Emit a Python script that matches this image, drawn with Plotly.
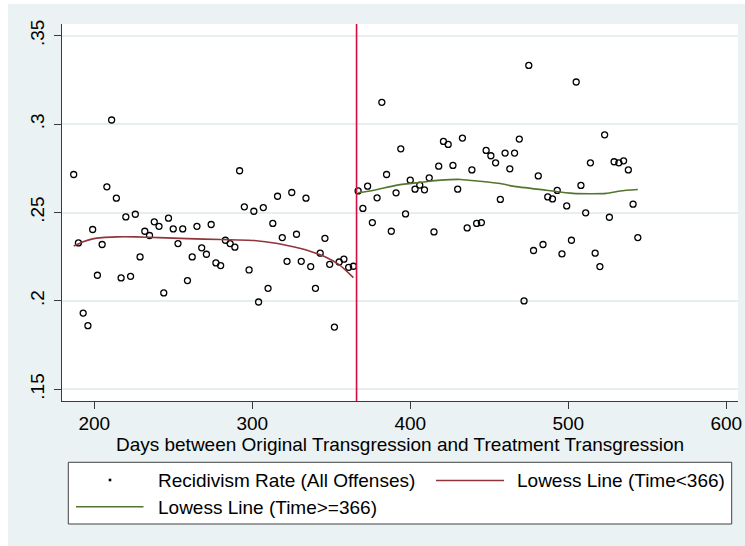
import plotly.graph_objects as go

# ---------------- data ----------------
days = [187, 190, 193, 196, 199, 202, 205, 208, 211, 214, 217, 220, 223, 226, 229,
        232, 235, 238, 241, 244, 247, 250, 253, 256, 259, 262, 265, 268, 271, 274,
        277, 280, 283, 286, 289, 292, 295, 298, 301, 304, 307, 310, 313, 316, 319,
        322, 325, 328, 331, 334, 337, 340, 343, 346, 349, 352, 355, 358, 361, 364,
        367, 370, 373, 376, 379, 382, 385, 388, 391, 394, 397, 400, 403, 406, 409,
        412, 415, 418, 421, 424, 427, 430, 433, 436, 439, 442, 445, 448, 451, 454,
        457, 460, 463, 466, 469, 472, 475, 478, 481, 484, 487, 490, 493, 496, 499,
        502, 505, 508, 511, 514, 517, 520, 523, 526, 529, 532, 535, 538, 541, 544]

recid_rate = [0.2715, 0.2328, 0.1931, 0.1860, 0.2404, 0.2145, 0.2319, 0.2645, 0.3023, 0.2581,
              0.2130, 0.2475, 0.2139, 0.2490, 0.2249, 0.2394, 0.2370, 0.2447, 0.2422, 0.2045,
              0.2468, 0.2407, 0.2324, 0.2407, 0.2115, 0.2249, 0.2422, 0.2300, 0.2264, 0.2432,
              0.2215, 0.2200, 0.2343, 0.2324, 0.2304, 0.2736, 0.2532, 0.2175, 0.2507, 0.1994,
              0.2528, 0.2071, 0.2438, 0.2592, 0.2358, 0.2224, 0.2613, 0.2377, 0.2224, 0.2581,
              0.2194, 0.2071, 0.2270, 0.2354, 0.2207, 0.1852, 0.2220, 0.2236, 0.2190, 0.2196,
              0.2622, 0.2523, 0.2649, 0.2443, 0.2583, 0.3123, 0.2715, 0.2394, 0.2611, 0.2860,
              0.2492, 0.2683, 0.2632, 0.2655, 0.2628, 0.2696, 0.2390, 0.2762, 0.2902, 0.2885,
              0.2766, 0.2632, 0.2921, 0.2413, 0.2741, 0.2438, 0.2443, 0.2851, 0.2821, 0.2781,
              0.2574, 0.2836, 0.2747, 0.2836, 0.2915, 0.2000, 0.3332, 0.2285, 0.2707, 0.2319,
              0.2588, 0.2577, 0.2625, 0.2266, 0.2537, 0.2343, 0.3238, 0.2653, 0.2498, 0.2781,
              0.2270, 0.2194, 0.2939, 0.2473, 0.2787, 0.2781, 0.2792, 0.2741, 0.2547, 0.2358]

lowess_before_x = [187, 193, 199, 205, 214, 226, 241, 259, 280, 301, 316, 328, 337, 346, 355, 364]
lowess_before_y = [0.2311, 0.2335, 0.2351, 0.2358, 0.2362, 0.2362, 0.2358, 0.2352, 0.2347,
                   0.2342, 0.2325, 0.2302, 0.2280, 0.2250, 0.2205, 0.2132]

lowess_after_x = [367, 377, 392, 406, 419, 432, 444, 457, 465, 486, 503, 524, 533, 544]
lowess_after_y = [0.2612, 0.2626, 0.2655, 0.2670, 0.2683, 0.2687, 0.2677, 0.2664, 0.2649,
                  0.2626, 0.2608, 0.2608, 0.2622, 0.2630]

CUTOFF = 366
x_ticks = [200, 300, 400, 500, 600]
y_ticks = [0.15, 0.2, 0.25, 0.3, 0.35]
y_tick_labels = [".15", ".2", ".25", ".3", ".35"]

series_names = ["Recidivism Rate (All Offenses)", "Lowess Line (Time<366)", "Lowess Line (Time>=366)"]
x_title = "Days between Original Transgression and Treatment Transgression"

# ---------------- styling ----------------
FONT = "Liberation Sans, Arial, sans-serif"
FS = 19
BG = "#EAF2F3"
RED_LOWESS = "#90353B"
GREEN_LOWESS = "#55752F"
VLINE = "#DA0B3E"
AXIS = "#3a3a3a"

W_FIG, H_FIG = 745, 546
PL, PR, PT, PB = 62, 738, 24, 401
PW, PH = PR - PL, PB - PT


def xp(px):
    return (px - PL) / PW


def yp(py):
    return (PB - py) / PH


fig = go.Figure()

fig.add_trace(go.Scatter(
    x=days, y=recid_rate, mode="markers", name=series_names[0],
    marker=dict(symbol="circle-open", size=6, color="black", line=dict(width=1.3, color="black")),
    showlegend=False, cliponaxis=False,
))
fig.add_trace(go.Scatter(
    x=lowess_before_x, y=lowess_before_y, mode="lines", name=series_names[1],
    line=dict(color=RED_LOWESS, width=1.6, shape="spline", smoothing=0.6), showlegend=False,
))
fig.add_trace(go.Scatter(
    x=lowess_after_x, y=lowess_after_y, mode="lines", name=series_names[2],
    line=dict(color=GREEN_LOWESS, width=1.6, shape="spline", smoothing=0.6), showlegend=False,
))

shapes = []
# white strips outside graph region (top and left)
shapes.append(dict(type="rect", xref="paper", yref="paper", x0=xp(0), x1=xp(W_FIG), y0=yp(4), y1=yp(0),
                   fillcolor="white", line=dict(width=0), layer="below"))
shapes.append(dict(type="rect", xref="paper", yref="paper", x0=xp(0), x1=xp(8), y0=yp(H_FIG), y1=yp(0),
                   fillcolor="white", line=dict(width=0), layer="below"))
# vertical cutoff line
shapes.append(dict(type="line", xref="x", yref="paper", x0=CUTOFF, x1=CUTOFF, y0=0, y1=1,
                   line=dict(color=VLINE, width=1.6), layer="above"))
# legend box
shapes.append(dict(type="rect", xref="paper", yref="paper", x0=xp(68.3), x1=xp(731.7), y0=yp(524), y1=yp(462.3),
                   fillcolor="white", line=dict(color="#404040", width=1)))
# legend keys
shapes.append(dict(type="rect", xref="paper", yref="paper", x0=xp(108.7), x1=xp(111.3), y0=yp(481.3), y1=yp(478.7),
                   fillcolor="black", line=dict(width=0)))
shapes.append(dict(type="line", xref="paper", yref="paper", x0=xp(436), x1=xp(504), y0=yp(480.5), y1=yp(480.5),
                   line=dict(color=RED_LOWESS, width=1.6)))
shapes.append(dict(type="line", xref="paper", yref="paper", x0=xp(76), x1=xp(143.5), y0=yp(506.7), y1=yp(506.7),
                   line=dict(color=GREEN_LOWESS, width=1.6)))

annotations = [
    dict(text=series_names[0], xref="paper", yref="paper", x=xp(155.5), y=yp(480.5), xanchor="left", yanchor="middle",
         showarrow=False, font=dict(family=FONT, size=FS, color="black")),
    dict(text=series_names[1], xref="paper", yref="paper", x=xp(515), y=yp(480.5), xanchor="left", yanchor="middle",
         showarrow=False, font=dict(family=FONT, size=FS, color="black")),
    dict(text=series_names[2], xref="paper", yref="paper", x=xp(155.5), y=yp(507.5), xanchor="left", yanchor="middle",
         showarrow=False, font=dict(family=FONT, size=FS, color="black")),
]

fig.update_layout(
    width=W_FIG, height=H_FIG,
    margin=dict(l=PL, r=W_FIG - PR, t=PT, b=H_FIG - PB, pad=0, autoexpand=False),
    paper_bgcolor=BG, plot_bgcolor="white",
    font=dict(family=FONT, size=FS, color="black"),
    showlegend=False,
    shapes=shapes, annotations=annotations,
    xaxis=dict(
        range=[179.6, 607.4], tickvals=x_ticks, ticks="outside", ticklen=7, tickwidth=1, tickcolor=AXIS,
        showline=True, linecolor=AXIS, linewidth=1, showgrid=False, zeroline=False, automargin=False,
        tickfont=dict(family=FONT, size=FS, color="black"), ticklabelstandoff=-2,
        title=dict(text=x_title, font=dict(family=FONT, size=FS, color="black"), standoff=0),
    ),
    yaxis=dict(
        range=[0.1434, 0.3566], tickvals=y_ticks, ticktext=y_tick_labels, ticks="outside", ticklen=7,
        tickwidth=1, tickcolor=AXIS, tickangle=-90, automargin=False,
        showline=True, linecolor=AXIS, linewidth=1, showgrid=True, gridcolor="#E6EEF0", gridwidth=1.5,
        zeroline=False, tickfont=dict(family=FONT, size=FS, color="black"), ticklabelstandoff=2,
    ),
)

fig.write_html(
    "out.html",
    config={"displayModeBar": False},
    post_script="document.body.style.margin='0';document.body.style.overflow='hidden';",
)
